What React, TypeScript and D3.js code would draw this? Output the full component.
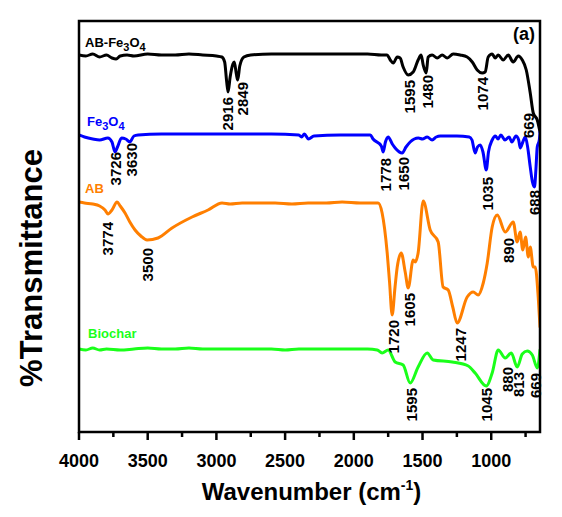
import React from "react";
import * as d3 from "d3";

// [wavenumber (cm-1), relative transmittance (offset units)]
const abFe3o4: [number, number][] = [
  [4000, 377], [3950, 376], [3900, 378], [3850, 375], [3800, 377], [3760, 374], [3730, 373], [3700, 376],
  [3650, 377], [3600, 376], [3500, 378], [3400, 377], [3300, 377], [3200, 378], [3100, 377], [3000, 376],
  [2960, 375], [2940, 370], [2925, 350], [2915, 340], [2900, 355], [2880, 368], [2870, 370], [2855, 358],
  [2845, 352], [2830, 366], [2800, 375], [2750, 377], [2600, 378], [2400, 378], [2200, 378], [2000, 378],
  [1900, 378], [1800, 377], [1757, 377], [1735, 372], [1713, 369], [1684, 375], [1663, 374], [1641, 365],
  [1604, 357], [1568, 360], [1532, 372], [1510, 377], [1495, 367], [1473, 359], [1459, 375], [1430, 377],
  [1393, 374], [1357, 377], [1320, 374], [1277, 378], [1226, 377], [1175, 375], [1138, 370], [1102, 362],
  [1066, 359], [1044, 360], [1022, 375], [993, 378], [971, 374], [949, 377], [913, 372], [876, 377],
  [840, 370], [803, 376], [774, 372], [745, 362], [716, 339], [694, 319], [665, 312], [645, 300],
];

const fe3o4: [number, number][] = [
  [4000, 297], [3960, 295], [3900, 293], [3850, 292], [3790, 294], [3760, 290], [3738, 280], [3720, 285],
  [3690, 294], [3660, 293], [3630, 290], [3600, 296], [3570, 297], [3400, 298], [3200, 298], [3000, 298],
  [2800, 298], [2600, 298], [2400, 297], [2380, 295], [2360, 298], [2330, 293], [2290, 296], [2100, 297],
  [1880, 297], [1860, 293], [1800, 286], [1786, 280], [1770, 290], [1750, 295], [1720, 288], [1699, 284],
  [1648, 279], [1620, 285], [1590, 290], [1560, 293], [1530, 294], [1500, 293], [1466, 295], [1430, 292],
  [1400, 295], [1370, 296], [1250, 296], [1160, 295], [1140, 292], [1117, 279], [1100, 285], [1080, 287],
  [1060, 280], [1036, 262], [1020, 280], [993, 292], [970, 296], [950, 293], [930, 297], [900, 292],
  [870, 295], [850, 290], [820, 296], [800, 292], [789, 284], [770, 290], [752, 295], [735, 285],
  [716, 265], [700, 250], [685, 245], [675, 262], [665, 285], [650, 292], [645, 300],
];

const ab: [number, number][] = [
  [4000, 230], [3960, 229], [3900, 228], [3850, 226], [3811, 222], [3789, 218], [3760, 222], [3723, 230],
  [3700, 226], [3665, 219], [3630, 210], [3592, 202], [3550, 196], [3505, 192], [3425, 194], [3323, 204],
  [3177, 215], [3061, 222], [2959, 229], [2900, 228], [2813, 229], [2700, 229], [2573, 229], [2450, 228],
  [2333, 229], [2200, 229], [2085, 230], [1954, 229], [1845, 229], [1823, 229], [1794, 219], [1757, 179],
  [1740, 150], [1721, 117], [1700, 145], [1684, 165], [1655, 179], [1626, 160], [1604, 144], [1568, 172],
  [1553, 170], [1532, 179], [1495, 231], [1444, 202], [1386, 190], [1350, 145], [1313, 142], [1280, 125],
  [1248, 109], [1175, 135], [1131, 140], [1095, 137], [1058, 149], [1029, 169], [993, 205], [956, 217],
  [898, 200], [840, 210], [811, 190], [790, 200], [770, 182], [750, 195], [730, 175], [716, 185],
  [694, 165], [680, 165], [658, 135], [645, 105],
];

const biochar: [number, number][] = [
  [4000, 83], [3950, 82], [3900, 84], [3850, 82], [3800, 83], [3700, 82], [3600, 83], [3500, 84],
  [3400, 83], [3300, 83], [3200, 84], [3100, 83], [3000, 83], [2800, 83], [2600, 83], [2500, 82],
  [2400, 83], [2200, 83], [2000, 83], [1900, 83], [1830, 82], [1794, 79], [1750, 82], [1699, 70],
  [1641, 67], [1590, 49], [1532, 65], [1466, 79], [1422, 72], [1284, 70], [1167, 66], [1117, 59],
  [1036, 46], [993, 59], [949, 82], [898, 74], [854, 79], [811, 65], [774, 78], [738, 81],
  [701, 77], [665, 64], [645, 82],
];

const seriesNames = ["AB-Fe3O4", "Fe3O4", "AB", "Biochar"];
const seriesColors = ["#000000", "#0000ff", "#ff7f00", "#1aff1a"];
const seriesData = [abFe3o4, fe3o4, ab, biochar];
// series label anchor: [wavenumber, value]
const seriesLabelAt: [number, number][] = [[3956, 385], [3942, 306], [3956, 239], [3934, 94]];

// peak annotations: [text, x wavenumber, top value]
const peakLabels: [string, number, number][] = [
  ["2916", 2919, 335], ["2849", 2813, 350], ["1595", 1597, 352], ["1480", 1466, 357], ["1074", 1066, 355], ["669", 731, 319],
  ["3726", 3731, 280], ["3630", 3614, 289], ["1778", 1772, 274], ["1650", 1641, 275], ["1035", 1029, 255], ["688", 687, 242],
  ["3774", 3789, 210], ["3500", 3498, 184], ["1720", 1714, 112], ["1605", 1597, 139], ["1247", 1226, 104], ["890", 876, 194],
  ["1595", 1583, 44], ["1045", 1036, 44], ["880", 884, 65], ["813", 803, 60], ["669", 680, 59],
];

const xTicksMajor = [4000, 3500, 3000, 2500, 2000, 1500, 1000];
const xTicksMinor = [3750, 3250, 2750, 2250, 1750, 1250, 750];

const W = 562, H = 517;
const L = 79, R = 540, T = 21, B = 432;
const FONT = "Arial, 'Liberation Sans', sans-serif";

function SubLabel({ name, x, y, color }: { name: string; x: number; y: number; color: string }) {
  const parts = name.split(/(\d)/).filter((p) => p.length > 0);
  let down = false;
  return (
    <text x={x} y={y} fill={color} fontFamily={FONT} fontWeight="bold" fontSize={13}>
      {parts.map((p, i) => {
        const isDigit = /\d/.test(p);
        let dy = 0;
        if (isDigit && !down) { dy = 4; down = true; }
        else if (!isDigit && down) { dy = -4; down = false; }
        return (
          <tspan key={i} dy={dy} fontSize={isDigit ? 11 : 13}>{p}</tspan>
        );
      })}
    </text>
  );
}

export default function App() {
  const x = d3.scaleLinear().domain([4000, 645]).range([L, R]);
  const y = d3.scaleLinear().domain([0, 411]).range([B, T]);
  const line = d3
    .line<[number, number]>()
    .x((d) => x(d[0]))
    .y((d) => y(d[1]))
    .curve(d3.curveMonotoneX);

  return (
    <svg width={W} height={H} style={{ position: "absolute", left: 0, top: 0, background: "#fff" }}>
      <defs>
        <clipPath id="plotClip">
          <rect x={L} y={T} width={R - L} height={B - T} />
        </clipPath>
      </defs>
      <g clipPath="url(#plotClip)">
        {seriesData.map((d, i) => (
          <path key={i} d={line(d) || ""} fill="none" stroke={seriesColors[i]} strokeWidth={3}
            strokeLinejoin="round" strokeLinecap="round" />
        ))}
      </g>
      {seriesNames.map((n, i) => (
        <SubLabel key={n} name={n} x={x(seriesLabelAt[i][0])} y={y(seriesLabelAt[i][1])} color={seriesColors[i]} />
      ))}
      {peakLabels.map(([t, w, v], i) => (
        <text key={i} transform={`translate(${x(w)},${y(v)}) rotate(-90)`} textAnchor="end" dy="0.36em"
          fontFamily={FONT} fontWeight="bold" fontSize={15} fill="#000">{t}</text>
      ))}
      <rect x={L} y={T} width={R - L} height={B - T} fill="none" stroke="#000" strokeWidth={2.5} />
      {xTicksMajor.map((t) => (
        <g key={t}>
          <line x1={x(t)} x2={x(t)} y1={B} y2={B + 8} stroke="#000" strokeWidth={2.5} />
          <text x={x(t)} y={B + 35} textAnchor="middle" fontFamily={FONT} fontWeight="bold" fontSize={18}>{t}</text>
        </g>
      ))}
      {xTicksMinor.map((t) => (
        <line key={t} x1={x(t)} x2={x(t)} y1={B} y2={B + 5} stroke="#000" strokeWidth={2.5} />
      ))}
      <text x={R - 5} y={T + 19} textAnchor="end" fontFamily={FONT} fontWeight="bold" fontSize={18}>(a)</text>
      <text x={(L + R) / 2 + 2} y={B + 68} textAnchor="middle" fontFamily={FONT} fontWeight="bold" fontSize={24}>
        Wavenumber (cm<tspan dy={-10} fontSize={14}>-1</tspan><tspan dy={10}>)</tspan>
      </text>
      <text transform={`translate(42,268) rotate(-90)`} textAnchor="middle" fontFamily={FONT} fontWeight="bold" fontSize={31}>
        %Transmittance
      </text>
    </svg>
  );
}
